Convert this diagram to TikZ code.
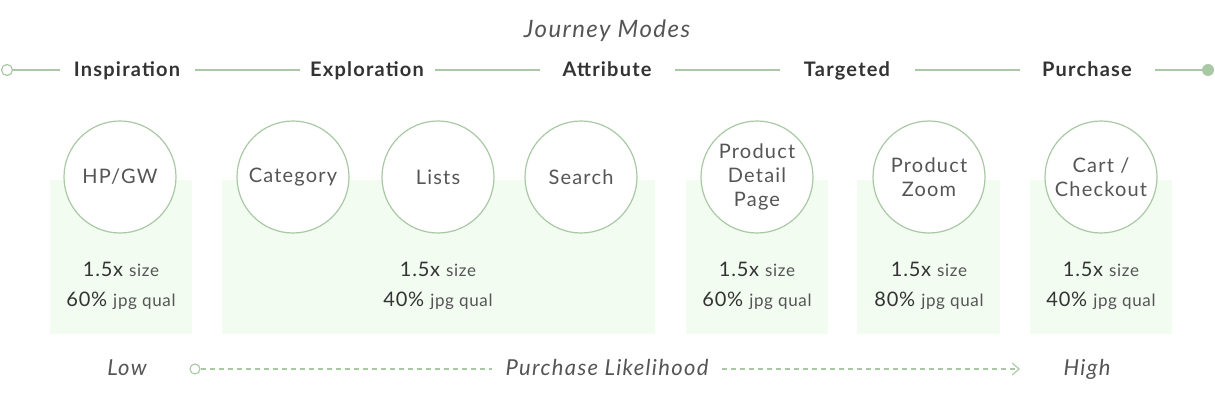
\documentclass[tikz,border=0pt]{standalone}
\usepackage{fontspec}
\setmainfont{Lato}
\newfontfamily\spfont[LetterSpace=6]{Lato}
\newfontfamily\sptfont[LetterSpace=4]{Lato}
\usetikzlibrary{arrows.meta}
\definecolor{lg}{HTML}{A9C9A4}
\definecolor{bgg}{HTML}{F2FCF1}
\definecolor{tx}{HTML}{333333}
\definecolor{tl}{HTML}{555555}
\begin{document}
\begin{tikzpicture}[x=1pt,y=-1pt,
  hdr/.style={font=\spfont\fontsize{20}{20}\selectfont\bfseries, text=tx, inner sep=0pt, anchor=base},
  mode/.style={circle, draw=lg, line width=1.2pt, fill=white, minimum size=112pt, inner sep=0pt, align=center, font=\spfont\fontsize{20}{24}\selectfont, text=tl},
  gbox/.style={fill=bgg, draw=none},
  stat/.style={text=tx, inner sep=0pt, anchor=base, align=center, font=\sptfont\fontsize{20}{20}\selectfont},
  gline/.style={draw=lg, line width=1.2pt},
  it/.style={font=\spfont\fontsize{22}{22}\selectfont\itshape, text=tl, inner sep=0pt, anchor=base}]
\useasboundingbox (0,0) rectangle (1215,401);
% title
\node[it, font=\spfont\fontsize{24}{24}\selectfont\itshape] (title) at (607,38) {Journey Modes};
% header labels
\node[hdr] (h1) at (127,77) {Inspiration};
\node[hdr] (h2) at (367,77) {Exploration};
\node[hdr] (h3) at (607,77) {Attribute};
\node[hdr] (h4) at (847,77) {Targeted};
\node[hdr] (h5) at (1087,77) {Purchase};
\node[circle, draw=lg, line width=1.2pt, fill=white, minimum size=11pt, inner sep=0pt] (s) at (7,70) {};
\node[circle, fill=lg, minimum size=12pt, inner sep=0pt] (e) at (1208,70) {};
\coordinate (a1) at (60,70); \coordinate (a2) at (195,70);
\coordinate (b1) at (300,70); \coordinate (b2) at (435,70);
\coordinate (c1) at (540,70); \coordinate (c2) at (675,70);
\coordinate (d1) at (780,70); \coordinate (d2) at (915,70);
\coordinate (f1) at (1020,70); \coordinate (f2) at (1155,70);
\draw[gline] (s) -- (a1);
\draw[gline] (a2) -- (b1);
\draw[gline] (b2) -- (c1);
\draw[gline] (c2) -- (d1);
\draw[gline] (d2) -- (f1);
\draw[gline] (f2) -- (e);
% green boxes
\fill[gbox] (50,180) rectangle (192,334);
\fill[gbox] (222,180) rectangle (655,334);
\fill[gbox] (686,180) rectangle (828,334);
\fill[gbox] (857,180) rectangle (1000,334);
\fill[gbox] (1030,180) rectangle (1172,334);
% circles
\node[mode] (hp) at (120,177) {HP/GW};
\node[mode] (cat) at (293,177) {Category};
\node[mode] (lists) at (438,177) {Lists};
\node[mode] (search) at (581,177) {Search};
\node[mode] (pdp) at (757,177) {Product\\Detail\\Page};
\node[mode] (zoom) at (929,177) {Product\\Zoom};
\node[mode] (cart) at (1101,177) {Cart /\\Checkout};
% stats
\foreach \n/\x/\q in {s1/121/60, s2/438/40, s3/757/60, s4/929/80, s5/1101/40}{
  \node[stat] (\n a) at (\x,276) {1.5x\hspace{6pt}\textcolor{tl}{\fontsize{17}{17}\selectfont size}};
  \node[stat] (\n b) at (\x,306) {\q\%\hspace{6pt}\textcolor{tl}{\fontsize{17}{17}\selectfont jpg qual}};
}
% bottom
\node[it] (low) at (127,375) {Low};
\node[it] (pl) at (607,375) {Purchase Likelihood};
\node[it] (high) at (1087,375) {High};
\node[circle, draw=lg, line width=1.1pt, fill=white, minimum size=10pt, inner sep=0pt] (bs) at (195,369) {};
\coordinate (m1) at (492,369);
\coordinate (m2) at (722,369);
\coordinate (bend) at (1020,369);
\draw[draw=lg, line width=1.1pt, dash pattern=on 5pt off 4pt] (bs) -- (m1);
\draw[draw=lg, line width=1.1pt, dash pattern=on 5pt off 4pt, -{Straight Barb[length=7pt,width=12pt]}] (m2) -- (bend);
\end{tikzpicture}
\end{document}
